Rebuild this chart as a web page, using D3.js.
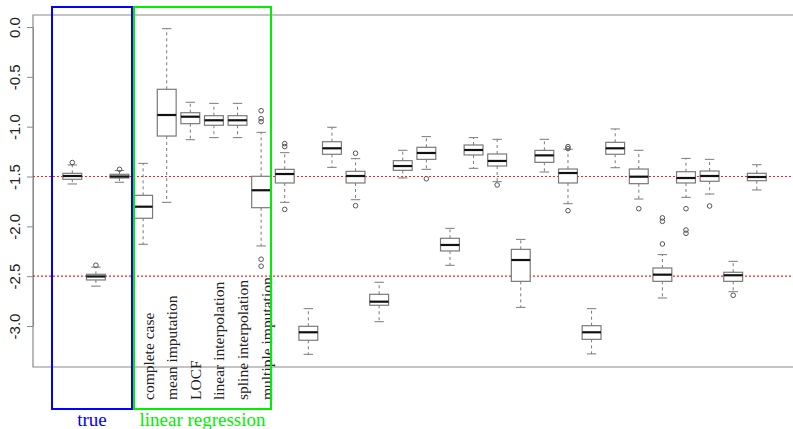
<!DOCTYPE html>
<html>
<head>
<meta charset="utf-8">
<script src="https://cdn.jsdelivr.net/npm/d3@7"></script>
<style>
  body { margin: 0; background: #fff; }
  svg { display: block; }
</style>
</head>
<body>
<div id="chart"></div>
<script>
const width = 793;
const height = 429;

// Box statistics, one entry per box (positions 1..30)
const whiskerLow = [-1.575, -2.60, -1.558, -2.18, -1.759, -1.131, -1.11, -1.11, -2.197,
  -1.759, -3.284, -1.408, -1.733, -2.957, -1.515, -1.428, -2.391, -1.418, -1.552,
  -2.813, -1.455, -1.773, -3.28, -1.412, -1.726, -2.719, -1.709, -1.676, -2.656, -1.635];
const quart1 = [-1.528, -2.538, -1.515, -1.919, -1.094, -0.97, -0.986, -0.986, -1.813,
  -1.565, -3.143, -1.277, -1.565, -2.792, -1.438, -1.328, -2.247, -1.284, -1.395,
  -2.552, -1.358, -1.565, -3.134, -1.277, -1.572, -2.552, -1.565, -1.548, -2.552, -1.542];
const medians = [-1.495, -2.503, -1.50, -1.803, -0.883, -0.90, -0.936, -0.936, -1.638,
  -1.475, -3.063, -1.217, -1.495, -2.756, -1.395, -1.264, -2.187, -1.234, -1.344,
  -2.338, -1.288, -1.465, -3.063, -1.217, -1.502, -2.485, -1.515, -1.495, -2.491, -1.505];
const quart3 = [-1.468, -2.481, -1.478, -1.689, -0.625, -0.86, -0.89, -0.89, -1.498,
  -1.428, -3.003, -1.151, -1.448, -2.682, -1.341, -1.207, -2.12, -1.184, -1.274,
  -2.231, -1.238, -1.425, -2.997, -1.157, -1.425, -2.418, -1.452, -1.445, -2.461, -1.468];
const whiskerHigh = [-1.384, -2.41, -1.44, -1.368, -0.017, -0.755, -0.766, -0.766, -1.057,
  -1.261, -2.826, -1.006, -1.321, -2.561, -1.237, -1.10, -2.02, -1.11, -1.127,
  -2.131, -1.127, -1.227, -2.826, -1.023, -1.237, -2.284, -1.318, -1.328, -2.351, -1.382];
const outliers = [[-1.36], [-2.39], [-1.428], [], [], [], [], [],
  [-0.84, -0.92, -0.95, -2.33, -2.40],
  [-1.17, -1.20, -1.83], [], [], [-1.267, -1.793], [], [], [-1.522], [], [], [-1.585],
  [], [], [-1.20, -1.22, -1.843], [], [], [-1.823], [-1.915, -1.95, -2.177],
  [-1.823, -2.037, -2.07], [-1.796], [-2.692], []];

const yTicks = [0, -0.5, -1, -1.5, -2, -2.5, -3];
const trueValues = [-1.5, -2.5];
const methodLabels = ["complete case", "mean imputation", "LOCF",
  "linear interpolation", "spline interpolation", "multiple imputation"];
const methodPositions = [4, 5, 6, 7, 8, 9];

const x = d3.scaleLinear().domain([1, 30]).range([72.3, 756.8]);
const y = d3.scaleLinear().domain([0, -3]).range([27, 326]);
const unit = x(2) - x(1);
const boxW = unit * 0.8;

const plotLeft = 33, plotTop = 15, plotBottom = 367, plotRight = 793;
const frameColor = "#8a8a8a";
const boxColor = "#7a7a7a";

const svg = d3.select("#chart").append("svg")
  .attr("width", width)
  .attr("height", height)
  .attr("viewBox", [0, 0, width, height]);

// frame
svg.append("path")
  .attr("d", `M${plotRight},${plotTop}H${plotLeft}V${plotBottom}H${plotRight}`)
  .attr("fill", "none")
  .attr("stroke", frameColor)
  .attr("stroke-width", 1.2);

// y axis
const yAxis = svg.append("g")
  .attr("transform", `translate(${plotLeft},0)`)
  .call(d3.axisLeft(y).tickValues(yTicks).tickSize(6).tickFormat(d => d.toFixed(1)));
yAxis.select(".domain").attr("stroke", frameColor);
yAxis.selectAll(".tick line").attr("stroke", frameColor);
yAxis.selectAll(".tick text")
  .attr("x", 0).attr("y", 0).attr("dy", null)
  .attr("transform", "translate(-13,0) rotate(-90)")
  .attr("text-anchor", "middle")
  .attr("fill", "#222")
  .style("font", "15px 'Liberation Sans', Arial, sans-serif");

// true value lines
svg.selectAll(".ref")
  .data(trueValues)
  .join("line")
  .attr("x1", plotLeft).attr("x2", plotRight)
  .attr("y1", d => y(d)).attr("y2", d => y(d))
  .attr("stroke", "#ff2020")
  .attr("stroke-width", 1.2)
  .attr("stroke-dasharray", "2,2");

// boxes
const boxes = d3.range(30).map(i => ({
  pos: i + 1, lo: whiskerLow[i], q1: quart1[i], med: medians[i],
  q3: quart3[i], hi: whiskerHigh[i], out: outliers[i]
}));

const g = svg.selectAll(".box")
  .data(boxes)
  .join("g")
  .attr("class", "box");

g.append("line") // lower whisker
  .attr("x1", d => x(d.pos)).attr("x2", d => x(d.pos))
  .attr("y1", d => y(d.q1)).attr("y2", d => y(d.lo))
  .attr("stroke", boxColor).attr("stroke-dasharray", "3,3");
g.append("line") // upper whisker
  .attr("x1", d => x(d.pos)).attr("x2", d => x(d.pos))
  .attr("y1", d => y(d.q3)).attr("y2", d => y(d.hi))
  .attr("stroke", boxColor).attr("stroke-dasharray", "3,3");
g.append("line")
  .attr("x1", d => x(d.pos) - boxW / 4).attr("x2", d => x(d.pos) + boxW / 4)
  .attr("y1", d => y(d.lo)).attr("y2", d => y(d.lo))
  .attr("stroke", boxColor);
g.append("line")
  .attr("x1", d => x(d.pos) - boxW / 4).attr("x2", d => x(d.pos) + boxW / 4)
  .attr("y1", d => y(d.hi)).attr("y2", d => y(d.hi))
  .attr("stroke", boxColor);
g.append("rect")
  .attr("x", d => x(d.pos) - boxW / 2)
  .attr("y", d => y(d.q3))
  .attr("width", boxW)
  .attr("height", d => y(d.q1) - y(d.q3))
  .attr("fill", "#fff")
  .attr("stroke", boxColor)
  .attr("stroke-width", 1.2);
g.append("line") // median
  .attr("x1", d => x(d.pos) - boxW / 2).attr("x2", d => x(d.pos) + boxW / 2)
  .attr("y1", d => y(d.med)).attr("y2", d => y(d.med))
  .attr("stroke", "#111").attr("stroke-width", 2.2);
g.selectAll("circle")
  .data(d => d.out.map(v => ({ pos: d.pos, v })))
  .join("circle")
  .attr("cx", d => x(d.pos))
  .attr("cy", d => y(d.v))
  .attr("r", 2.3)
  .attr("fill", "none")
  .attr("stroke", "#555");

// method labels
svg.selectAll(".method")
  .data(methodLabels)
  .join("text")
  .attr("transform", (d, i) => `translate(${x(methodPositions[i]) + 5},400) rotate(-90)`)
  .attr("dy", "0.35em")
  .attr("fill", "#222")
  .style("font", "15.5px 'Liberation Serif', 'Times New Roman', serif")
  .text(d => d);

// group frames
const groups = [
  { name: "true", color: "#0000ff", x0: 52, x1: 132 },
  { name: "linear regression", color: "#00ee00", x0: 134, x1: 271 }
];
svg.selectAll(".grp")
  .data(groups)
  .join("rect")
  .attr("x", d => d.x0).attr("y", 7)
  .attr("width", d => d.x1 - d.x0).attr("height", 402)
  .attr("fill", "none")
  .attr("stroke", d => d.color)
  .attr("stroke-width", 2);
svg.selectAll(".grpLabel")
  .data(groups)
  .join("text")
  .attr("x", d => (d.x0 + d.x1) / 2)
  .attr("y", 426)
  .attr("text-anchor", "middle")
  .attr("fill", d => d.color)
  .style("font", "19px 'Liberation Serif', 'Times New Roman', serif")
  .text(d => d.name);
</script>
</body>
</html>
